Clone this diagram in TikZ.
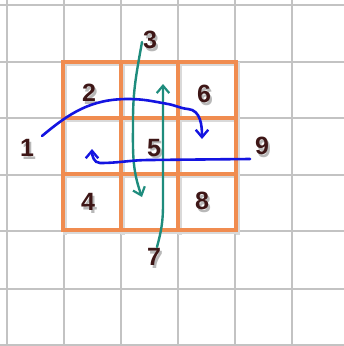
\documentclass[tikz,border=0pt]{standalone}
\usepackage{fontspec}
\setmainfont{Liberation Sans}
\usepackage{tikz}
\usetikzlibrary{arrows.meta,calc}
\definecolor{gridgray}{RGB}{195,195,195}
\definecolor{boxorange}{RGB}{240,140,80}
\definecolor{numbrown}{RGB}{62,22,22}
\definecolor{pathteal}{RGB}{30,140,125}
\definecolor{pathblue}{RGB}{20,20,225}
\tikzset{
    gridline/.style={draw=gridgray, line width=1.3pt},
    boxline/.style={draw=boxorange, line width=3.8pt, line cap=rect},
    boxshadow/.style={draw=black!15, line width=3.8pt, line cap=rect},
    numlabel/.style={text=numbrown, font=\fontsize{25}{25}\selectfont\bfseries, inner sep=0pt},
    numshadow/.style={text=black!28, font=\fontsize{25}{25}\selectfont\bfseries, inner sep=0pt},
    tealarrow/.style={draw=pathteal, line width=2.4pt, line cap=round, -{Straight Barb[length=2.6mm,width=4.4mm,line width=2.2pt]}},
    bluearrow/.style={draw=pathblue, line width=2.6pt, line cap=round, -{Straight Barb[length=2.6mm,width=4.4mm,line width=2.4pt]}}
}
\newcommand{\numnode}[3]{%
  \node[numshadow] (#1s) at ($(#2)+(2,2.5)$) {#3};
  \node[numlabel] (#1) at (#2) {#3};}

\begin{document}
\begin{tikzpicture}[x=1pt,y=-1pt]
  \useasboundingbox (0,0) rectangle (344,346);
  \fill[white] (0,0) rectangle (344,346);
  \foreach \gx in {7,64,121,178,235,292}
    \draw[gridline] (\gx,0) -- (\gx,346);
  \foreach \gy in {5,62,118,175,231,289,345}
    \draw[gridline] (0,\gy) -- (344,\gy);
  \foreach \bx in {63,121,178,236}
    \draw[boxshadow] (\bx+2,64) -- (\bx+2,233);
  \foreach \by in {62,118,174,230}
    \draw[boxshadow] (65,\by+2) -- (238,\by+2);
  \foreach \bx in {63,121,178,236}
    \draw[boxline] (\bx,62) -- (\bx,230);
  \foreach \by in {62,118,174,230}
    \draw[boxline] (63,\by) -- (236,\by);
  \numnode{n1}{27,148}{1}
  \numnode{n2}{89,93}{2}
  \numnode{n3}{150,40}{3}
  \numnode{n4}{88,202}{4}
  \numnode{n5}{154,148}{5}
  \numnode{n6}{204,94}{6}
  \numnode{n7}{154,257}{7}
  \numnode{n8}{202,201}{8}
  \numnode{n9}{262,146}{9}
  \coordinate (s1) at (42,136);
  \coordinate (e1) at (202,139);
  \coordinate (s3) at (142,42);
  \coordinate (e3) at (142,197);
  \coordinate (s7) at (157,247);
  \coordinate (e7) at (163,84);
  \coordinate (s9) at (250,159);
  \coordinate (e9) at (92,149);
  \draw[tealarrow] (s3) to[out=-100,in=90] (133,120) to[out=-90,in=110] (e3);
  \draw[tealarrow] (s7) to[out=75,in=-90] (163,205) -- (163,110) to[out=90,in=-90] (e7);
  \draw[bluearrow] (s1) to[out=40,in=180] (128,99) to[out=0,in=170] (168,104)
    to[out=-10,in=175] (188,109) to[out=-5,in=90] (e1);
  \draw[bluearrow] (s9) -- (150,160) to[out=180,in=0] (100,163) to[out=180,in=-90] (e9);
\end{tikzpicture}
\end{document}
